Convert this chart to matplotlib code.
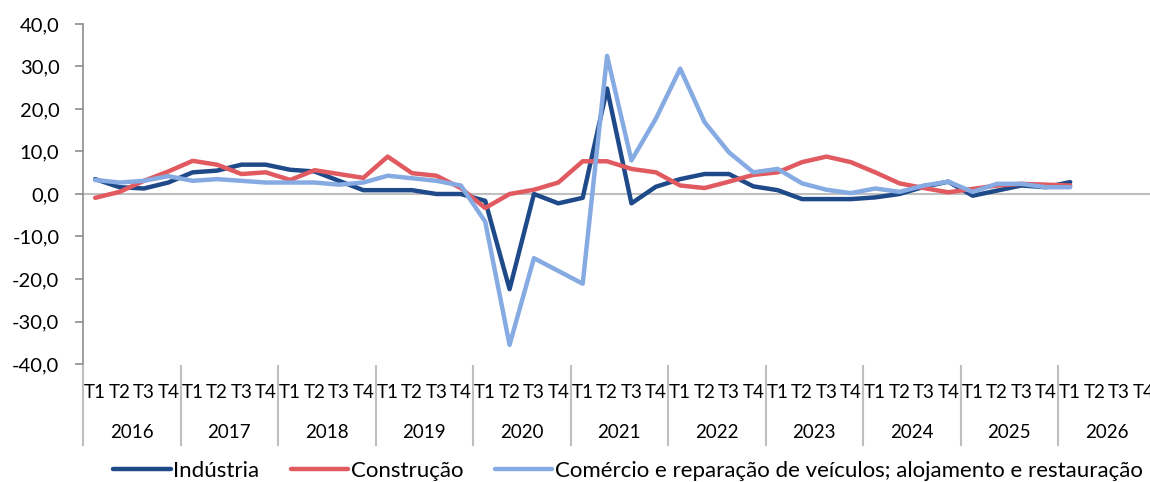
import matplotlib
matplotlib.use("Agg")
import matplotlib.pyplot as plt
import matplotlib.transforms as mtransforms

years = ["2016", "2017", "2018", "2019", "2020", "2021", "2022", "2023", "2024", "2025", "2026"]
quarters = ["T1", "T2", "T3", "T4"]

industria = [3.5, 1.6, 1.3, 2.7, 5.1, 5.5, 6.9, 6.9, 5.7, 5.3, 3.1, 0.9,
             0.9, 0.9, 0.0, 0.0, -1.6, -22.4, 0.0, -2.2, -0.9, 24.8, -2.2, 1.7,
             3.5, 4.7, 4.7, 1.8, 0.9, -1.2, -1.2, -1.2, -0.8, 0.0, 1.7, 2.9,
             -0.4, 0.8, 2.0, 1.6, 2.8]
construcao = [-0.9, 0.5, 3.1, 5.3, 7.8, 6.9, 4.7, 5.1, 3.3, 5.6, 4.7, 3.8,
              8.8, 4.9, 4.3, 1.4, -3.3, 0.0, 1.0, 2.7, 7.7, 7.7, 5.9, 5.1,
              2.0, 1.4, 2.9, 4.5, 5.1, 7.5, 8.8, 7.5, 5.1, 2.5, 1.4, 0.4,
              1.2, 2.0, 2.4, 2.2, 2.0]
comercio = [3.3, 2.7, 3.1, 4.2, 3.1, 3.5, 3.1, 2.7, 2.7, 2.7, 2.2, 2.7,
            4.3, 3.7, 3.1, 2.0, -6.5, -35.5, -15.1, -18.1, -21.1, 32.5, 7.9, 17.7,
            29.5, 16.9, 9.8, 5.1, 5.9, 2.5, 1.0, 0.2, 1.3, 0.5, 2.0, 2.9,
            0.5, 2.4, 2.4, 1.6, 1.6]

series_names = ["Indústria", "Construção",
                "Comércio e reparação de veículos; alojamento e restauração"]
colors = ["#1F4A8A", "#E05A60", "#86AAE2"]

plt.rcParams['font.family'] = ['Lato', 'DejaVu Sans']

fig = plt.figure(figsize=(11.5, 4.82), dpi=100)
W, H = 1150, 482
left, right, top, bottom = 83, 1155.5, 24, 364
ax = fig.add_axes([left / W, 1 - bottom / H, (right - left) / W, (bottom - top) / H])

n_slots = len(years) * len(quarters)
x = [i + 0.5 for i in range(len(industria))]

for data, name, c in zip([industria, construcao, comercio], series_names, colors):
    ax.plot(x, data, color=c, lw=3.2, label=name, solid_joinstyle='round',
            solid_capstyle='round', zorder=3)

ax.axhline(0, color="#BFBFBF", lw=1.5, zorder=1)
ax.set_xlim(0, n_slots)
ax.set_ylim(-40, 40)
ax.set_yticks(range(-40, 41, 10))
ax.set_yticklabels([f"{v:.1f}".replace(".", ",") for v in range(-40, 41, 10)], fontsize=14.5)
ax.tick_params(axis='y', length=6, width=1.2, color="#8C8C8C", pad=11)
for s in ["top", "right", "bottom"]:
    ax.spines[s].set_visible(False)
ax.spines["left"].set_color("#8C8C8C")
ax.spines["left"].set_linewidth(1.2)
ax.set_xticks([])

trans = mtransforms.blended_transform_factory(ax.transData, ax.transAxes)
hpx = bottom - top
for yi, yr in enumerate(years):
    for qi, q in enumerate(quarters):
        ax.text(yi * 4 + qi + 0.5, -(393 - bottom) / hpx, q, transform=trans,
                ha="center", va="center", fontsize=13.5, clip_on=False)
    ax.text(yi * 4 + 2, -(432 - bottom) / hpx, yr, transform=trans,
            ha="center", va="center", fontsize=13.5, clip_on=False)
for k in range(len(years) + 1):
    ax.plot([k * 4, k * 4], [-(366 - bottom) / hpx, -(445 - bottom) / hpx], transform=trans,
            color="#BFBFBF", lw=1.5, clip_on=False)

leg = fig.legend(loc="center", bbox_to_anchor=(628 / W, 1 - 471 / H), ncol=3, frameon=False,
                 fontsize=16, handlelength=2.6, columnspacing=1.4, handletextpad=0.12)
for h in leg.get_lines():
    h.set_solid_capstyle('round')

fig.savefig("out.png", dpi=100)
